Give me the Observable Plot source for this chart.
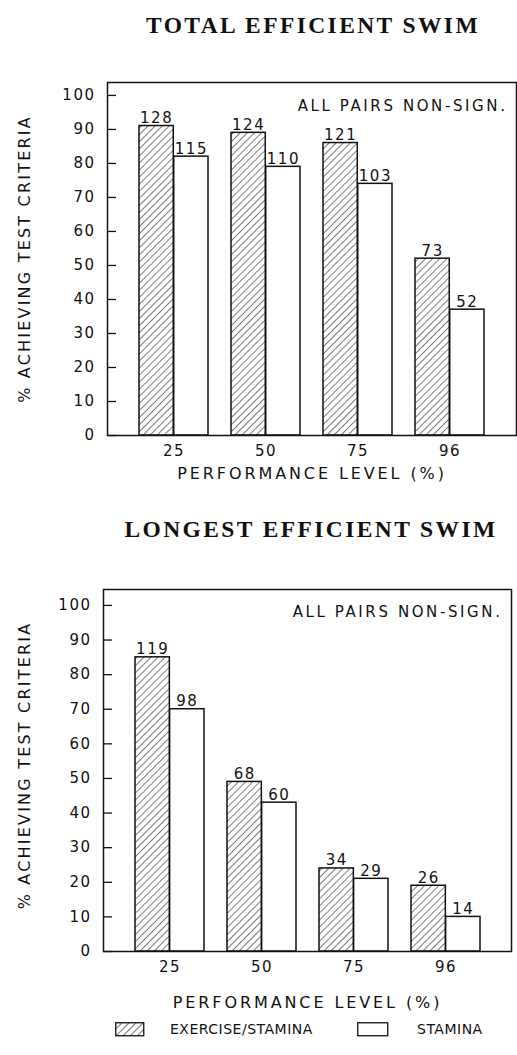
<!DOCTYPE html>
<html>
<head>
<meta charset="utf-8">
<script src="https://cdn.jsdelivr.net/npm/d3@7"></script>
<script src="https://cdn.jsdelivr.net/npm/@observablehq/plot@0.6"></script>
<style>
  html, body { margin: 0; padding: 0; background: #fff; }
  body { width: 517px; height: 1055px; position: relative; overflow: hidden; font-family: "DejaVu Sans", sans-serif; }
  .title { position: absolute; width: 420px; text-align: center; font-family: "Liberation Serif", "DejaVu Serif", serif; font-weight: bold; font-size: 23.5px; color: #111; line-height: 1; letter-spacing: 2.4px; }
  .panel { position: absolute; left: 0; }
  .legend { position: absolute; top: 1020px; left: 0; width: 517px; height: 20px; font-size: 14px; letter-spacing: 0.5px; color: #111; }
  .legend span { position: absolute; top: 1px; }
  .legend svg { position: absolute; top: 2px; }
</style>
</head>
<body>
<svg width="0" height="0" style="position:absolute">
  <defs>
    <pattern id="hatch" patternUnits="userSpaceOnUse" width="5" height="5" patternTransform="rotate(45)">
      <rect width="5" height="5" fill="white"></rect>
      <line x1="0" y1="0" x2="0" y2="5" stroke="#111" stroke-width="1.1"></line>
    </pattern>
  </defs>
</svg>
<div class="title" id="t1" style="top:14px; left:103px">TOTAL EFFICIENT SWIM</div>
<div class="panel" id="p1" style="top:40px"></div>
<div class="title" id="t2" style="top:518px; left:101px">LONGEST EFFICIENT SWIM</div>
<div class="panel" id="p2" style="top:560px"></div>
<div class="legend">
  <svg style="left:115px" width="30" height="15"><rect x="0.75" y="0.75" width="28" height="13" fill="url(#hatch)" stroke="#111" stroke-width="1.3"></rect></svg>
  <span style="left:170px">EXERCISE/STAMINA</span>
  <svg style="left:357px" width="32" height="15"><rect x="0.75" y="0.75" width="30" height="13" fill="white" stroke="#111" stroke-width="1.3"></rect></svg>
  <span style="left:417px">STAMINA</span>
</div>
<script>
// ---- data ----
const levels = ["25", "50", "75", "96"];
const yTicks = [0, 10, 20, 30, 40, 50, 60, 70, 80, 90, 100];

const totalExercise = [91, 89, 86, 52];
const totalExerciseN = [128, 124, 121, 73];
const totalStamina = [82, 79, 74, 37];
const totalStaminaN = [115, 110, 103, 52];

const longestExercise = [85, 49, 24, 19];
const longestExerciseN = [119, 68, 34, 26];
const longestStamina = [70, 43, 21, 10];
const longestStaminaN = [98, 60, 29, 14];

const note = "ALL PAIRS NON-SIGN.";
const xTitle = "PERFORMANCE LEVEL (%)";
const yTitle = "% ACHIEVING TEST CRITERIA";

const W = 517;
const padInner = 0.25, padOuter = 0.333;

function rows(vals, ns) {
  return levels.map((l, i) => ({level: l, value: vals[i], n: ns[i]}));
}

function panel(cfg) {
  const ex = rows(cfg.ex, cfg.exN);
  const st = rows(cfg.st, cfg.stN);
  const step = (W - cfg.ml - cfg.mr) / (levels.length - padInner + 2 * padOuter);
  const bw = step * (1 - padInner);
  const half = bw / 2;
  return Plot.plot({
    width: W,
    height: cfg.h,
    marginLeft: cfg.ml,
    marginRight: cfg.mr,
    marginTop: cfg.mt,
    marginBottom: cfg.mb,
    style: {fontFamily: "DejaVu Sans, sans-serif", fontSize: "15px", color: "#111", background: "white", overflow: "visible"},
    x: {domain: levels, paddingInner: padInner, paddingOuter: padOuter, axis: null},
    y: {domain: [0, cfg.yMax], axis: null},
    marks: [
      Plot.barY(ex, {x: "level", y: "value", fill: "url(#hatch)", stroke: "#111", strokeWidth: 1.5, insetRight: half}),
      Plot.barY(st, {x: "level", y: "value", fill: "white", stroke: "#111", strokeWidth: 1.5, insetLeft: half}),
      Plot.text(ex, {x: "level", y: "value", text: "n", dx: -half / 2, dy: -3, lineAnchor: "bottom", fontSize: 15}),
      Plot.text(st, {x: "level", y: "value", text: "n", dx: half / 2, dy: -3, lineAnchor: "bottom", fontSize: 15}),
      Plot.frame({stroke: "#111", strokeWidth: 1.5}),
      Plot.axisY({ticks: yTicks, tickSize: -9, tickPadding: 21, tickFormat: d => String(d), fontSize: 15, label: null, stroke: "#111", strokeWidth: 1.3}),
      Plot.axisX({tickSize: 0, tickPadding: cfg.xtp, fontSize: 15, label: null}),
      Plot.text([note], {frameAnchor: "top-right", dx: -9, dy: cfg.noteDy, lineAnchor: "top", textAnchor: "end", fontSize: 15.01}),
      Plot.text([xTitle], {frameAnchor: "bottom", dy: cfg.xtDy, lineAnchor: "middle", textAnchor: "middle", fontSize: 16}),
      Plot.text([yTitle], {frameAnchor: "left", dx: cfg.ytDx, dy: cfg.ytDy, rotate: -90, lineAnchor: "middle", textAnchor: "middle", fontSize: 16.01})
    ]
  });
}

const p1 = panel({ex: totalExercise, exN: totalExerciseN, st: totalStamina, stN: totalStaminaN,
  h: 450, ml: 107, mr: 1, mt: 42, mb: 55, yMax: 103.8, xtp: 10, noteDy: 18, xtDy: 38, ytDx: -83, ytDy: 0});
const p2 = panel({ex: longestExercise, exN: longestExerciseN, st: longestStamina, stN: longestStaminaN,
  h: 455, ml: 103, mr: 6, mt: 29, mb: 64, yMax: 104.6, xtp: 10, noteDy: 17, xtDy: 51, ytDx: -79, ytDy: -5});

document.getElementById("p1").appendChild(p1);
document.getElementById("p2").appendChild(p2);

// letter spacing to mimic the wide plotter lettering
for (const svg of [p1, p2]) {
  svg.querySelectorAll("text").forEach(t => {
    const fs = parseFloat(t.closest("[font-size]")?.getAttribute("font-size") || 15);
    t.style.letterSpacing = fs === 16.01 ? "2.2px" : fs >= 16 ? "2.9px" : (fs === 15.01 ? "2.6px" : "1.5px");
  });
}
</script>
</body>
</html>
